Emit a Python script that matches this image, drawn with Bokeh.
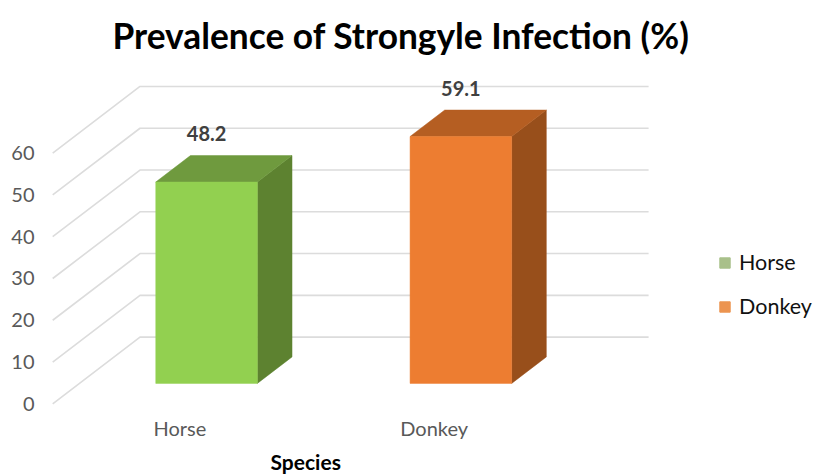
from bokeh.plotting import figure
from bokeh.embed import file_html
from bokeh.resources import INLINE
from bokeh.models import Legend, LegendItem, Title, FixedTicker, Range1d
from bokeh.core.properties import value

TITLE = "Prevalence of Strongyle Infection (%)"
X_TITLE = "Species"
species = ["Horse", "Donkey"]
prevalence = [48.2, 59.1]
y_ticks = [0, 10, 20, 30, 40, 50, 60]
face_colors = ["#92D050", "#ED7D31"]
top_colors = ["#6F9A3E", "#B55E22"]
side_colors = ["#5D8230", "#984F1B"]
legend_colors = ["#A9C08A", "#EC9450"]

FONT = "Lato"
PX_X = 254.3
PX_Y = 4.177
DX = 87.3 / PX_X
DY = 66.7 / PX_Y
BAR_W = 101.6 / PX_X
Z0, Z1 = 0.306, 0.703

FL, FR, FT, FB = 40, 814, 70, 412
X0_SX, Y0_SY = 52.2, 403.3

p = figure(width=814, height=474, output_backend="svg", toolbar_location=None,
           frame_width=FR - FL, frame_height=FB - FT,
           x_range=Range1d((FL - X0_SX) / PX_X, (FR - X0_SX) / PX_X),
           y_range=Range1d((Y0_SY - FB) / PX_Y, (Y0_SY - FT) / PX_Y),
           min_border_left=FL, min_border_right=0, min_border_top=FT, min_border_bottom=474 - FB)
p.outline_line_color = None
p.background_fill_color = "white"
p.xgrid.visible = False
p.ygrid.visible = False

t = Title(text=TITLE, align="left", offset=112 - FL, text_font=FONT, text_font_size="35.3px",
          text_font_style="bold", text_color="#000000", vertical_align="top", standoff=23)
p.add_layout(t, "above")

# projected gridlines
gx, gy = [], []
for v in y_ticks:
    gx.append([0, DX, 2 + DX])
    gy.append([v, v + DY, v + DY])
p.multi_line(gx, gy, line_color="#DCDCDC", line_width=1.6)

# bars
for i, (val, fc, tc, sc) in enumerate(zip(prevalence, face_colors, top_colors, side_colors)):
    c = i + 0.5
    xl = c - BAR_W / 2 + Z0 * DX
    xr = c + BAR_W / 2 + Z0 * DX
    sx = (Z1 - Z0) * DX
    b = Z0 * DY
    sy = (Z1 - Z0) * DY
    p.patch([xr, xr + sx, xr + sx, xr], [b, b + sy, val + b + sy, val + b], fill_color=sc, line_color=sc, line_width=0.5)
    p.patch([xl, xr, xr + sx, xl + sx], [val + b, val + b, val + b + sy, val + b + sy], fill_color=tc, line_color=tc, line_width=0.5)
    p.quad(left=[xl], right=[xr], bottom=[b], top=[val + b], fill_color=fc, line_color=fc, line_width=0.5)
    p.text([(xl + xr) / 2], [val + b + sy], text=[f"{val}"], text_font=value(FONT), text_font_size="20px",
           text_font_style="bold", text_color="#404040", text_align="center", text_baseline="middle", y_offset=-22)

# axes
ya = p.yaxis[0]
ya.ticker = FixedTicker(ticks=y_ticks)
ya.axis_line_color = None
ya.major_tick_line_color = None
ya.minor_tick_line_color = None
ya.major_tick_out = 0
ya.major_tick_in = 0
ya.minor_tick_out = 0
ya.minor_tick_in = 0
ya.major_label_standoff = 6
ya.major_label_text_font = FONT
ya.major_label_text_font_size = "20px"
ya.major_label_text_color = "#595959"

xa = p.xaxis[0]
xa.ticker = FixedTicker(ticks=[0.5, 1.5])
xa.major_label_overrides = {0.5: species[0], 1.5: species[1]}
xa.axis_line_color = None
xa.major_tick_line_color = None
xa.minor_tick_line_color = None
xa.major_tick_out = 0
xa.major_tick_in = 0
xa.minor_tick_out = 0
xa.minor_tick_in = 0
xa.major_label_standoff = 3
xa.major_label_text_font = FONT
xa.major_label_text_font_size = "20px"
xa.major_label_text_color = "#595959"

xt = Title(text=X_TITLE, align="left", offset=270 - FL, text_font=FONT, text_font_size="21px",
           text_font_style="bold", text_color="#000000", standoff=8)
p.add_layout(xt, "below")

# legend swatches
items = []
for name, col in zip(species, legend_colors):
    r = p.quad(left=[float("nan")], right=[float("nan")], bottom=[float("nan")], top=[float("nan")],
               fill_color=col, line_color=col)
    items.append(LegendItem(label=name, renderers=[r]))
leg = Legend(items=items, location=(720 - FL - 2, FB - 319), border_line_color=None, background_fill_alpha=0,
             glyph_width=13, glyph_height=13, label_text_font=FONT, label_text_font_size="21.5px",
             label_text_color="#111111", spacing=18, padding=2, margin=0, label_standoff=8, label_height=25)
p.add_layout(leg, "center")

open("out.html", "w").write(file_html(p, INLINE))
